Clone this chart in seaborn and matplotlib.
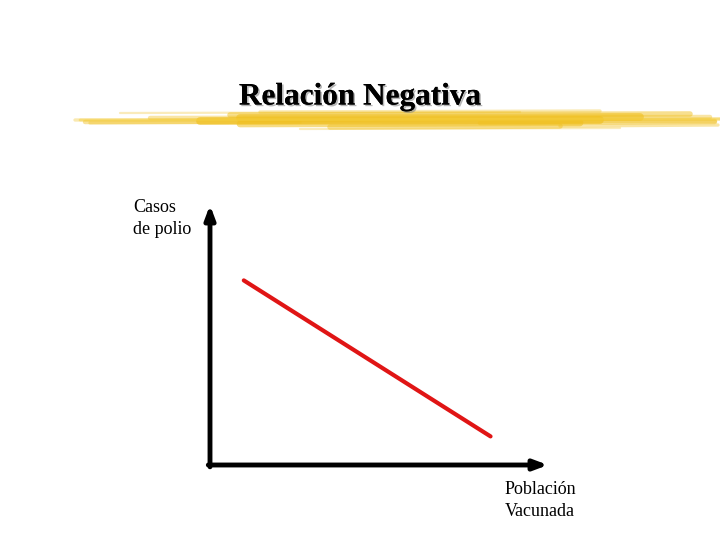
import numpy as np
import pandas as pd
import matplotlib
matplotlib.use('Agg')
import matplotlib.pyplot as plt
import matplotlib.patheffects as pe
import seaborn as sns

# data: one straight line, negative relation
poblacion = [1.0, 8.3]
casos = [7.1, 1.1]
title = 'Relación Negativa'
xlabel = 'Población\nVacunada'
ylabel = 'Casos\nde polio'

df = pd.DataFrame({'poblacion': poblacion, 'casos': casos})

sns.set_style('white')
plt.rcParams['font.family'] = ['Liberation Serif', 'DejaVu Serif']
plt.rcParams['text.color'] = 'black'

fig = plt.figure(figsize=(7.2, 5.4), dpi=100)

###---------------------- yellow brush stroke under the title ----------------------###
brush = fig.add_axes([0, 0, 1, 1], zorder=0)
brush.set_xlim(0, 720)
brush.set_ylim(540, 0)
brush.axis('off')
# tapered band made of thin strokes
strokes = [
    (75, 720, 120, 1.5, 0.35), (85, 715, 122, 2.0, 0.45), (150, 710, 118, 2.0, 0.4),
    (230, 690, 115, 2.5, 0.5), (240, 640, 118, 3.5, 0.6), (200, 600, 121, 3.5, 0.65),
    (240, 580, 124, 3.0, 0.55), (330, 560, 127, 2.5, 0.45), (120, 520, 113, 1.0, 0.3),
    (480, 715, 123, 2.0, 0.45), (560, 718, 126, 1.5, 0.4), (90, 300, 123, 1.5, 0.35),
    (260, 600, 112, 1.5, 0.35), (300, 620, 129, 1.0, 0.3),
]
for x0, x1, y, lw, a in strokes:
    brush.plot([x0, x1], [y, y - 1], color='#f0c020', lw=lw * 1.6, alpha=a,
               solid_capstyle='round')
brush.plot([80, 720], [120, 119], color='#f5d040', lw=2, alpha=0.5)
brush.text(360, 97, title, ha='center', va='center', fontsize=22.5, fontweight='bold',
           color='black',
           path_effects=[pe.withSimplePatchShadow(offset=(1.2, -1.2), shadow_rgbFace='#888888', alpha=0.6),
                         pe.Normal()])

###---------------------- axes with arrows ----------------------###
ax = fig.add_axes([210 / 720, 75 / 540, 338 / 720, 260 / 540], zorder=1)
ax.patch.set_alpha(0)
sns.lineplot(data=df, x='poblacion', y='casos', color='#e01515', linewidth=3, ax=ax)
ax.set_xlim(0, 10)
ax.set_ylim(0, 10)
for s in ax.spines.values():
    s.set_visible(False)
ax.set_xticks([])
ax.set_yticks([])
ax.set_xlabel('')
ax.set_ylabel('')
arrow = dict(arrowstyle='-|>,head_length=0.8,head_width=0.3', color='black', lw=3.5,
             shrinkA=0, shrinkB=0)
ax.annotate('', xy=(0, 1.0), xytext=(0, -0.007), xycoords='axes fraction', arrowprops=arrow)
ax.annotate('', xy=(1.0, 0), xytext=(-0.005, 0), xycoords='axes fraction', arrowprops=arrow)

brush.text(133, 199, ylabel, ha='left', va='top', fontsize=13, linespacing=1.35)
brush.text(505, 481, xlabel, ha='left', va='top', fontsize=13, linespacing=1.35)

plt.savefig('out.png', dpi=100)
